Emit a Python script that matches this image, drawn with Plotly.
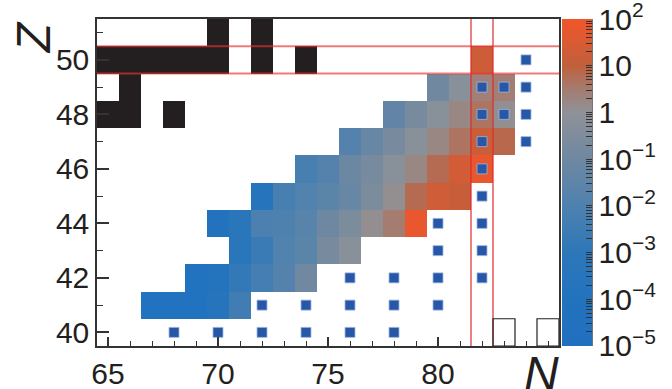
import plotly.graph_objects as go
import math

# ---------------- data ----------------
N_axis = list(range(65, 86))          # neutron number columns
Z_axis = list(range(40, 52))          # proton number rows

# log10 of the colour value, per proton row: (first N, values...)
row41_start, row41 = 67, [-4.5, -4.5, -4.4, -3.6, -2.4]
row42_start, row42 = 69, [-4.4, -3.8, -2.8, -2.3, -1.8, -0.9]
row43_start, row43 = 71, [-3.3, -2.6, -1.9, -1.6, -0.7, -0.2]
row44_start, row44 = 70, [-4.2, -3.3, -2.1, -2.0, -1.7, -1.0, -0.6, 0.1, 0.5, 1.8]
row45_start, row45 = 72, [-3.6, -2.2, -1.9, -1.6, -1.2, -0.6, 0.1, 0.8, 1.3, 1.15]
row46_start, row46 = 74, [-2.2, -1.8, -1.1, -0.7, -0.2, 0.25, 0.8, 1.35, 1.8]
row47_start, row47 = 76, [-1.8, -1.2, -0.7, -0.2, 0.25, 0.65, 1.2, 0.85]
row48_start, row48 = 78, [-1.4, -0.7, -0.2, 0.25, 0.65, 0.1]
row49_start, row49 = 80, [-0.9, -0.2, 0.4, 0.45]
row50_start, row50 = 82, [1.25]

# black (stable) cells
black_N = [70, 72, 65, 66, 67, 68, 69, 70, 72, 74, 66, 65, 66, 68]
black_Z = [51, 51, 50, 50, 50, 50, 50, 50, 50, 50, 49, 48, 48, 48]

# blue square markers
marker_N = [68, 70, 72, 74, 76, 78,
            72, 74, 76, 78, 80,
            76, 78, 80, 82,
            80, 82,
            80, 82,
            82,
            82,
            82, 84,
            82, 83, 84,
            82, 83, 84,
            84]
marker_Z = [40, 40, 40, 40, 40, 40,
            41, 41, 41, 41, 41,
            42, 42, 42, 42,
            43, 43,
            44, 44,
            45,
            46,
            47, 47,
            48, 48, 48,
            49, 49, 49,
            50]

# outlined empty boxes
box_N = [83, 85]
box_Z = [40, 40]

magic_Z = 50
magic_N = 82

cbar_exponents = [-5, -4, -3, -2, -1, 0, 1, 2]
cbar_labels = ["10<sup>\u22125</sup>", "10<sup>\u22124</sup>", "10<sup>\u22123</sup>",
               "10<sup>\u22122</sup>", "10<sup>\u22121</sup>", "1", "10", "10<sup>2</sup>"]

# ---------------- build grids ----------------
rows = [(41, row41_start, row41), (42, row42_start, row42), (43, row43_start, row43),
        (44, row44_start, row44), (45, row45_start, row45), (46, row46_start, row46),
        (47, row47_start, row47), (48, row48_start, row48), (49, row49_start, row49),
        (50, row50_start, row50)]

grid = [[None for _ in N_axis] for _ in Z_axis]
for z, n0, vals in rows:
    for i, v in enumerate(vals):
        grid[z - Z_axis[0]][n0 + i - N_axis[0]] = v

bgrid = [[None for _ in N_axis] for _ in Z_axis]
for n, z in zip(black_N, black_Z):
    bgrid[z - Z_axis[0]][n - N_axis[0]] = 1

tickvals, ticktext = [], []
for e, lab in zip(cbar_exponents, cbar_labels):
    tickvals.append(e)
    ticktext.append(lab)
    if e < cbar_exponents[-1]:
        for k in range(2, 10):
            tickvals.append(e + math.log10(k))
            ticktext.append("")

colorscale = [
    [0.0, "#2070c0"],
    [1 / 7, "#2273be"],
    [2 / 7, "#2d77b9"],
    [3 / 7, "#4f81af"],
    [4 / 7, "#6e88a1"],
    [5 / 7, "#8f9297"],
    [5.5 / 7, "#a47c70"],
    [6 / 7, "#c0603c"],
    [1.0, "#f3552a"],
]

FONT = "Liberation Sans, Arial, Helvetica, sans-serif"
INK = "#231f20"

fig = go.Figure()
fig.add_trace(go.Heatmap(
    z=grid, x=N_axis, y=Z_axis, zmin=-5.002, zmax=2.002, colorscale=colorscale,
    hoverongaps=False,
    colorbar=dict(
        x=1.0065, xanchor="left", xpad=0, thickness=30, len=1, lenmode="fraction",
        y=0.5, yanchor="middle", ypad=0, outlinewidth=0,
        tickmode="array", tickvals=tickvals, ticktext=ticktext,
        ticks="inside", ticklen=6, tickwidth=1, tickcolor="#333",
        ticklabeloverflow="allow",
        tickfont=dict(family=FONT, size=30, color=INK),
    ),
))
fig.add_trace(go.Heatmap(
    z=bgrid, x=N_axis, y=Z_axis, zmin=0, zmax=1,
    colorscale=[[0, INK], [1, INK]], showscale=False, hoverongaps=False,
))

shapes = []
for edge in (magic_Z - 0.5, magic_Z + 0.5):
    shapes.append(dict(type="line", xref="paper", yref="y", x0=0, x1=1, y0=edge, y1=edge,
                       line=dict(color="rgba(232,50,50,0.65)", width=2), layer="above"))
for edge in (magic_N - 0.5, magic_N + 0.5):
    shapes.append(dict(type="line", xref="x", yref="paper", x0=edge, x1=edge, y0=0, y1=1,
                       line=dict(color="#e02a2a", width=1.2), layer="above"))
for n, z in zip(box_N, box_Z):
    shapes.append(dict(type="rect", xref="x", yref="y", x0=n - 0.5, x1=n + 0.5,
                       y0=z - 0.5, y1=z + 0.5, line=dict(color=INK, width=1.2),
                       fillcolor="rgba(0,0,0,0)", layer="above"))
# colorbar right edge line
shapes.append(dict(type="line", xref="paper", yref="paper", x0=1.0714, x1=1.0714, y0=0, y1=1,
                   line=dict(color="#444", width=1.5)))

fig.add_trace(go.Scatter(
    x=marker_N, y=marker_Z, mode="markers", hoverinfo="skip",
    marker=dict(symbol="square", size=10, color="#2757a8",
                line=dict(color="#9fb6dd", width=0.8)),
    showlegend=False,
))

fig.update_layout(
    width=672, height=389,
    margin=dict(l=97, r=113, t=19, b=43, autoexpand=False),
    paper_bgcolor="white", plot_bgcolor="white",
    showlegend=False, shapes=shapes,
    xaxis=dict(range=[64.5, 85.5], tickmode="array", tickvals=[65, 70, 75, 80],
               ticks="inside", ticklen=9, tickwidth=1.5, tickcolor="#333",
               minor=dict(tickmode="array", tickvals=N_axis, ticks="inside", ticklen=5,
                          tickwidth=1.2, tickcolor="#333", showgrid=False),
               showline=True, linecolor="#333", linewidth=1.5, mirror=True,
               showgrid=False, zeroline=False, automargin=False,
               tickfont=dict(family=FONT, size=30, color=INK)),
    yaxis=dict(range=[39.5, 51.5], tickmode="array", tickvals=[40, 42, 44, 46, 48, 50],
               ticks="inside", ticklen=12, tickwidth=1.5, tickcolor="#333",
               minor=dict(tickmode="array", tickvals=[41, 43, 45, 47, 49, 51], ticks="inside",
                          ticklen=6, tickwidth=1.2, tickcolor="#333", showgrid=False),
               showline=True, linecolor="#333", linewidth=1.5, mirror=True,
               showgrid=False, zeroline=False, automargin=False,
               tickfont=dict(family=FONT, size=30, color=INK)),
    annotations=[
        dict(text="<i>Z</i>", xref="paper", yref="paper", x=-0.136, y=0.945,
             xanchor="center", yanchor="middle", textangle=-90, showarrow=False,
             font=dict(family=FONT, size=48, color=INK)),
        dict(text="<i>N</i>", xref="paper", yref="paper", x=0.962, y=-0.085,
             xanchor="center", yanchor="middle", showarrow=False,
             font=dict(family=FONT, size=48, color=INK)),
    ],
)

fig.write_html("out.html", config={"displayModeBar": False},
               post_script="document.body.style.margin='0';")
